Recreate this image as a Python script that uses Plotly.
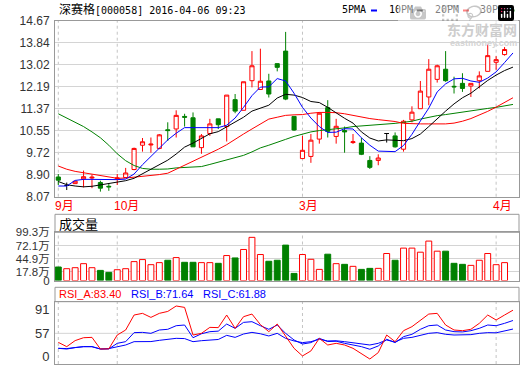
import plotly.graph_objects as go

# ---------------- data ----------------
candle_idx = list(range(54))
open_ = [8.81, 8.49, 8.56, 8.74, 8.77, 8.60, 8.46, 8.75, 8.79, 9.09,
         10.00, 10.01, 9.88, 10.58, 10.61, 11.08, 11.03, 9.91, 10.44, 10.99,
         10.70, 11.71, 11.31, 12.42, 12.09, 12.41, 13.06, 13.53, 11.08, 9.50,
         9.58, 10.23, 11.41, 10.33, 10.55, 10.10, 10.08, 9.43, 9.43, 10.44,
         10.35, 9.85, 10.95, 11.37, 11.81, 12.47, 12.85, 12.21, 12.32, 12.22,
         12.42, 12.77, 13.11, 13.40]
high = [8.92, 8.60, 8.66, 9.05, 8.90, 8.67, 8.58, 8.92, 9.15, 9.91,
        10.27, 10.29, 10.42, 10.86, 11.31, 11.18, 11.23, 10.42, 10.99, 10.99,
        11.88, 11.92, 12.38, 13.53, 13.62, 12.68, 13.06, 14.25, 11.08, 10.35,
        10.42, 11.24, 11.69, 10.99, 10.70, 10.42, 10.27, 9.59, 9.66, 10.44,
        10.48, 10.95, 11.46, 12.41, 13.23, 13.02, 13.53, 12.57, 12.70, 12.32,
        12.77, 13.78, 13.34, 13.68]
low = [8.51, 8.32, 8.55, 8.42, 8.39, 8.26, 8.29, 8.51, 8.79, 9.06,
       9.76, 9.72, 9.85, 10.16, 10.29, 10.70, 9.94, 9.68, 10.35, 10.61,
       10.14, 11.20, 11.31, 12.17, 12.07, 11.79, 12.77, 11.69, 10.54, 9.50,
       9.34, 10.06, 10.29, 10.06, 9.72, 10.05, 9.63, 9.11, 9.25, 10.10,
       9.91, 9.76, 10.86, 11.37, 11.50, 12.35, 12.38, 11.94, 12.00, 11.81,
       12.13, 12.77, 12.83, 13.36]
close = [8.69, 8.49, 8.65, 8.82, 8.80, 8.39, 8.44, 8.77, 8.96, 9.88,
         10.13, 10.04, 10.39, 10.55, 11.12, 11.05, 9.94, 10.35, 10.80, 10.77,
         11.88, 11.28, 12.38, 12.98, 12.40, 11.92, 12.92, 11.73, 10.57, 9.81,
         10.19, 11.20, 10.52, 10.71, 10.50, 10.13, 9.66, 9.17, 9.52, 10.44,
         9.94, 10.90, 11.24, 12.03, 12.85, 12.98, 12.42, 12.19, 12.13, 12.32,
         12.60, 13.36, 13.21, 13.59]
volume = [27.8, 24.3, 26.4, 34.7, 26.4, 20.8, 16.7, 22.2, 24.3, 38.9,
          43.1, 32.6, 36.8, 41.7, 47.2, 37.5, 37.5, 36.8, 36.8, 35.4,
          51.4, 46.5, 63.9, 88.9, 53.5, 39.6, 41.7, 72.9, 14.6, 53.5,
          43.7, 22.9, 54.2, 34.7, 33.3, 29.2, 22.9, 25.0, 25.0, 55.6,
          41.7, 66.7, 66.7, 58.3, 81.2, 60.4, 60.4, 35.4, 33.3, 31.2,
          41.7, 55.6, 32.6, 36.8]

# indicator lines (one extra point for the current session)
line_idx = list(range(55))
ma5 = [8.47, 8.47, 8.68, 8.72, 8.72, 8.71, 8.71, 8.71, 8.73, 8.92,
       9.27, 9.58, 9.90, 10.20, 10.45, 10.66, 10.66, 10.66, 10.67, 10.66,
       10.75, 11.02, 11.42, 11.86, 12.18, 12.19, 12.50, 12.41, 11.95, 11.42,
       11.02, 10.70, 10.48, 10.49, 10.62, 10.61, 10.28, 10.00, 9.78, 9.78,
       9.76, 9.99, 10.41, 10.91, 11.39, 12.00, 12.30, 12.49, 12.51, 12.41,
       12.36, 12.52, 12.75, 13.10, 13.46]
ma10 = [8.64, 8.52, 8.47, 8.44, 8.46, 8.51, 8.58, 8.63, 8.67, 8.76,
        8.93, 9.09, 9.26, 9.44, 9.67, 9.93, 10.08, 10.24, 10.43, 10.51,
        10.69, 10.85, 11.05, 11.28, 11.40, 11.50, 11.77, 11.91, 11.88, 11.79,
        11.64, 11.60, 11.42, 11.20, 11.01, 10.83, 10.50, 10.27, 10.16, 10.20,
        10.19, 10.17, 10.25, 10.42, 10.70, 11.00, 11.28, 11.55, 11.78, 11.95,
        12.20, 12.43, 12.63, 12.80, 12.93]
ma20 = [9.22, 9.10, 9.02, 8.97, 8.92, 8.86, 8.80, 8.76, 8.77, 8.80,
        8.83, 8.86, 8.90, 8.95, 9.10, 9.22, 9.38, 9.53, 9.68, 9.85,
        10.02, 10.23, 10.42, 10.61, 10.80, 10.98, 11.05, 11.12, 11.14, 11.15,
        11.20, 11.23, 11.23, 11.22, 11.18, 11.12, 11.05, 11.00, 10.96, 10.92,
        10.89, 10.82, 10.80, 10.80, 10.80, 10.80, 10.80, 10.83, 10.90, 11.00,
        11.12, 11.27, 11.43, 11.60, 11.78]
ma30 = [11.18, 11.02, 10.88, 10.70, 10.50, 10.28, 10.00, 9.68, 9.42, 9.24,
        9.13, 9.10, 9.10, 9.11, 9.15, 9.16, 9.17, 9.20, 9.28, 9.36,
        9.44, 9.52, 9.62, 9.75, 9.90, 10.00, 10.10, 10.22, 10.33, 10.42,
        10.50, 10.55, 10.58, 10.61, 10.65, 10.70, 10.72, 10.74, 10.77, 10.79,
        10.82, 10.86, 10.90, 10.98, 11.05, 11.11, 11.15, 11.20, 11.24, 11.29,
        11.33, 11.38, 11.42, 11.47, 11.53]
rsi_a = [46.7, 41.8, 48.7, 52.0, 52.4, 39.1, 39.3, 55.1, 60.8, 77.9,
         79.8, 75.2, 79.8, 82.0, 88.2, 86.6, 55.1, 57.0, 63.8, 63.5,
         77.9, 62.7, 76.0, 79.0, 67.0, 58.9, 67.6, 54.0, 39.9, 31.2,
         36.9, 51.3, 43.7, 45.6, 43.7, 39.9, 33.4, 27.7, 35.0, 55.1,
         47.5, 60.0, 64.6, 72.2, 79.0, 79.8, 66.5, 60.8, 60.0, 61.6,
         68.4, 77.9, 72.2, 77.9, 83.4]
rsi_b = [39.9, 39.1, 40.7, 41.8, 41.8, 39.1, 39.2, 45.6, 47.5, 57.8,
         58.1, 57.0, 60.8, 61.6, 65.7, 66.5, 52.0, 56.5, 58.9, 59.5,
         67.6, 62.7, 69.5, 70.3, 65.7, 61.6, 66.5, 57.0, 49.4, 44.8,
         46.4, 51.3, 47.6, 48.0, 45.6, 43.7, 41.8, 38.8, 42.6, 50.2,
         46.4, 53.2, 55.9, 61.6, 65.7, 66.5, 60.8, 58.9, 58.6, 60.0,
         62.7, 66.5, 65.7, 68.4, 71.64]
rsi_c = [39.9, 39.6, 40.8, 41.8, 41.8, 39.1, 39.6, 41.8, 43.7, 47.5,
         47.7, 47.6, 49.0, 50.2, 51.3, 51.0, 47.5, 48.6, 49.6, 50.0,
         54.7, 52.4, 56.2, 58.1, 56.5, 54.0, 57.0, 51.3, 48.3, 46.4,
         47.5, 50.2, 48.3, 48.5, 47.5, 46.4, 45.6, 43.7, 45.6, 49.4,
         47.1, 51.3, 52.4, 55.1, 57.0, 57.8, 55.9, 55.1, 55.0, 55.5,
         57.0, 57.8, 57.6, 59.7, 61.88]

month_labels = ["9月", "10月", "3月", "4月"]
month_pos = [0, 7, 29, 52]
price_ticks = [8.07, 8.90, 9.72, 10.55, 11.37, 12.19, 13.02, 13.84, 14.67]
vol_ticks = [0, 17.8, 44.9, 72.1, 99.3]
vol_tick_text = ["0", "17.8万", "44.9万", "72.1万", "99.3万"]
rsi_tick_text = ["0", "57", "91"]
title_name = "深赛格"
title_rest = "[000058] 2016-04-06 09:23"
legend_names = ["5PMA", "10PM", "20PM", "30PM"]
rsi_names = ["RSI_A", "RSI_B", "RSI_C"]

# ---------------- layout helpers ----------------
W, H = 520, 365
ML, MR, MT, MB = 55, 1, 20, 1
PW, PH = W - ML - MR, H - MT - MB


def py(y):
    return (H - MB - y) / PH


def px(x):
    return (x - ML) / PW


RED, GREEN, BLUE, BLACK = "#ff0000", "#008000", "#0000ff", "#000000"
GRID, BORDER = "#d4d4d4", "#999999"
LABEL_FONT = dict(family="Liberation Sans, Arial, Noto Sans CJK SC", size=12, color="#333333")

fig = go.Figure()

ud = [i for i in candle_idx if close[i] != open_[i]]
flat = [i for i in candle_idx if close[i] == open_[i]]


def pick(arr, ids):
    return [arr[i] for i in ids]


fig.add_trace(go.Candlestick(
    x=ud, open=pick(open_, ud), high=pick(high, ud), low=pick(low, ud), close=pick(close, ud),
    increasing=dict(line=dict(color=RED, width=1), fillcolor="#ffffff"),
    decreasing=dict(line=dict(color=GREEN, width=1), fillcolor=GREEN),
    whiskerwidth=0, showlegend=False, hoverinfo="skip", xaxis="x", yaxis="y"))
fig.add_trace(go.Candlestick(
    x=flat, open=pick(open_, flat), high=pick(high, flat), low=pick(low, flat), close=pick(close, flat),
    increasing=dict(line=dict(color=BLACK, width=1), fillcolor=BLACK),
    decreasing=dict(line=dict(color=BLACK, width=1), fillcolor=BLACK),
    whiskerwidth=0, showlegend=False, hoverinfo="skip", xaxis="x", yaxis="y"))

for vals, col in [(ma30, GREEN), (ma20, RED), (ma10, BLACK), (ma5, BLUE)]:
    fig.add_trace(go.Scatter(x=line_idx, y=vals, mode="lines", line=dict(color=col, width=1),
                             showlegend=False, hoverinfo="skip", xaxis="x", yaxis="y"))

up_flags = [close[i] >= open_[i] for i in candle_idx]
fig.add_trace(go.Bar(
    x=candle_idx, y=volume, width=0.7,
    marker=dict(color=["#ffffff" if u else GREEN for u in up_flags],
                line=dict(color=[RED if u else GREEN for u in up_flags], width=1)),
    showlegend=False, hoverinfo="skip", xaxis="x2", yaxis="y2"))

for vals, col in [(rsi_c, BLUE), (rsi_b, BLUE), (rsi_a, RED)]:
    fig.add_trace(go.Scatter(x=line_idx, y=vals, mode="lines", line=dict(color=col, width=1),
                             showlegend=False, hoverinfo="skip", xaxis="x3", yaxis="y3"))

x_range = [-0.392, -0.392 + PW / 8.42]
main_dom = [py(196.7), py(20.7)]
vol_dom = [py(280.5), py(232.3)]
rsi_dom = [0, py(301.7)]

# RSI panel scale (as drawn in the reference)
rsi_range = [22.0, 93.1]
rsi_tick_vals = [31.2, 57.0, 84.4]

axis_common = dict(showline=True, mirror=True, linecolor=BORDER, linewidth=1, zeroline=False,
                   fixedrange=True)
xcommon = dict(axis_common, range=x_range, showgrid=False, showticklabels=False, ticks="")

shapes = []
# dashed month lines
for xr, yr in [("x", "y domain"), ("x2", "y2 domain"), ("x3", "y3 domain")]:
    for m in month_pos:
        shapes.append(dict(type="line", xref=xr, yref=yr, x0=m, x1=m, y0=0, y1=1, layer="below",
                           line=dict(color="#c4c4c4", width=1, dash="3px,3px")))
# RSI 57 grid line
shapes.append(dict(type="line", xref="x3 domain", yref="y3", x0=0, x1=1, y0=57, y1=57, layer="below",
                   line=dict(color=GRID, width=1)))
# panel header boxes
shapes.append(dict(type="rect", xref="paper", yref="paper", x0=0, x1=1, y0=py(232.3), y1=py(214.3),
                   line=dict(color=BORDER, width=1)))
shapes.append(dict(type="rect", xref="paper", yref="paper", x0=0, x1=1, y0=py(301.7), y1=py(287.3),
                   line=dict(color=BORDER, width=1)))

annotations = []
# title
annotations.append(dict(xref="paper", yref="paper", x=px(56.5), y=py(10), xanchor="left", yanchor="middle",
                        showarrow=False,
                        text='<span style="font-size:12px">' + title_name + '</span>' + title_rest,
                        font=dict(family="DejaVu Sans Mono, Noto Sans CJK SC", size=10, color="#000000")))
# legend
leg_x = [340, 386.7, 432.7, 478]
dash_x = [371, 416.7, 463, 509]
for name, lx, dx, col in zip(legend_names, leg_x, dash_x, [BLUE, BLACK, RED, GREEN]):
    annotations.append(dict(xref="paper", yref="paper", x=px(lx), y=py(10), xanchor="left",
                            yanchor="middle", showarrow=False, text=name,
                            font=dict(family="DejaVu Sans Mono", size=10, color="#000000")))
    shapes.append(dict(type="line", xref="paper", yref="paper", x0=px(dx), x1=px(dx + 6),
                       y0=py(10.5), y1=py(10.5), line=dict(color=col, width=2)))
# watermark
annotations.append(dict(xref="paper", yref="paper", x=px(519), y=py(29), xanchor="right", yanchor="middle",
                        showarrow=False, text="<b>东方财富网</b>",
                        font=dict(family="Noto Sans CJK SC", size=14, color="#cdcdcd")))
annotations.append(dict(xref="paper", yref="paper", x=px(519), y=py(43), xanchor="right", yanchor="middle",
                        showarrow=False, text="<b>eastmoney.com</b>",
                        font=dict(family="Liberation Sans", size=9, color="#d4d4d4")))
# month labels
for lab, m in zip(month_labels, month_pos):
    annotations.append(dict(xref="x", yref="paper", x=m, y=py(206), xanchor="left", yanchor="middle",
                            xshift=-5.5, showarrow=False, text=lab,
                            font=dict(family="Liberation Sans, Noto Sans CJK SC", size=12, color=RED)))
# volume header
annotations.append(dict(xref="paper", yref="paper", x=px(56.5), y=py(223.3), xanchor="left", yanchor="middle",
                        showarrow=False, text="成交量",
                        font=dict(family="Noto Sans CJK SC", size=13, color="#000000")))
# RSI header
rsi_last = [rsi_a[-1], rsi_b[-1], rsi_c[-1]]
for name, val, hx, col in zip(rsi_names, rsi_last, [56.5, 129, 200.5], [RED, BLUE, BLUE]):
    annotations.append(dict(xref="paper", yref="paper", x=px(hx), y=py(294.3), xanchor="left",
                            yanchor="middle", showarrow=False, text=f"{name}:{val:.2f}",
                            font=dict(family="Liberation Sans, Arial", size=11, color=col)))

fig.update_layout(
    width=W, height=H, margin=dict(l=ML, r=MR, t=MT, b=MB, autoexpand=False),
    paper_bgcolor="#ffffff", plot_bgcolor="#ffffff", showlegend=False,
    boxgap=0.3,
    xaxis=dict(xcommon, domain=[0, 1], anchor="y", rangeslider=dict(visible=False)),
    xaxis2=dict(xcommon, domain=[0, 1], anchor="y2", matches="x"),
    xaxis3=dict(xcommon, domain=[0, 1], anchor="y3", matches="x"),
    yaxis=dict(axis_common, domain=main_dom, anchor="x", range=[8.07, 14.67], tickmode="array",
               tickvals=price_ticks, ticktext=[f"{v:.2f}" for v in price_ticks],
               showgrid=True, gridcolor=GRID, gridwidth=1, ticks="", tickfont=LABEL_FONT,
               ticklabelstandoff=2),
    yaxis2=dict(axis_common, domain=vol_dom, anchor="x2", range=[0, 99.3], tickmode="array",
                tickvals=vol_ticks, ticktext=vol_tick_text, showgrid=True, gridcolor=GRID,
                ticks="", tickfont=dict(LABEL_FONT, size=11.5), ticklabelstandoff=2),
    yaxis3=dict(axis_common, domain=rsi_dom, anchor="x3", range=rsi_range, tickmode="array",
                tickvals=rsi_tick_vals, ticktext=rsi_tick_text, showgrid=False,
                ticks="", tickfont=dict(LABEL_FONT, size=13), ticklabelstandoff=2),
    shapes=shapes, annotations=annotations,
)

fig.write_html("out.html", post_script="document.body.style.margin='0px';")
